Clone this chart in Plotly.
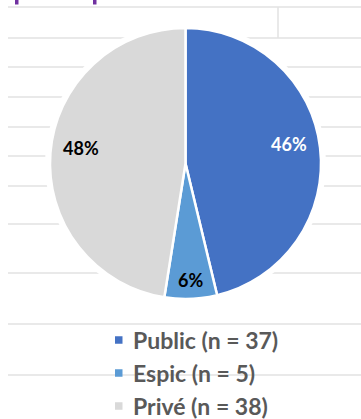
import math
import plotly.graph_objects as go

# ---- data ----
categories = ["Public", "Espic", "Privé"]
counts = [37, 5, 38]
colors = ["#4472C4", "#5B9BD5", "#D9D9D9"]
label_colors = ["white", "black", "black"]

W, H = 361, 419
total = sum(counts)
pct_text = [f"{int(v * 100 / total + 0.5)}%" for v in counts]

def px(x):
    return x / W

def py(y):
    return 1 - y / H

# pie geometry (pixels)
cx, cy, r = 185.5, 163.5, 135.5

fig = go.Figure()
fig.add_trace(go.Pie(
    labels=categories,
    values=counts,
    textinfo="none",
    marker=dict(colors=colors, line=dict(color="white", width=2.5)),
    sort=False,
    direction="clockwise",
    rotation=0,
    showlegend=False,
    hoverinfo="label+value+percent",
    domain=dict(x=[px(cx - r), px(cx + r)], y=[py(cy + r), py(cy - r)]),
))

shapes = []
# spreadsheet gridlines (background decoration)
grid_y = [7, 38, 67, 97, 127, 156, 186, 224, 273, 324, 375]
for gy in grid_y:
    shapes.append(dict(type="line", xref="paper", yref="paper",
                       x0=px(8), x1=1, y0=py(gy), y1=py(gy),
                       line=dict(color="#E2E2E2", width=1.5), layer="below"))
shapes.append(dict(type="line", xref="paper", yref="paper",
                   x0=px(278), x1=px(278), y0=py(7), y1=py(38),
                   line=dict(color="#E2E2E2", width=1.5), layer="below"))
# white halo around the pie
g = 5
shapes.append(dict(type="circle", xref="paper", yref="paper",
                   x0=px(cx - r - g), x1=px(cx + r + g),
                   y0=py(cy + r + g), y1=py(cy - r - g),
                   fillcolor="white", line=dict(width=0), layer="below"))
# purple descenders of cut-off title
for x0 in (15, 93):
    shapes.append(dict(type="rect", xref="paper", yref="paper",
                       x0=px(x0), x1=px(x0 + 3.5), y0=py(4.5), y1=1,
                       fillcolor="#7030A0", line=dict(width=0)))

annotations = []
# percentage labels placed along each slice's bisector (computed from data)
cum = 0
for v, t, c in zip(counts, pct_text, label_colors):
    mid = (cum + v / 2) / total * 2 * math.pi
    cum += v
    frac = 0.77 if v / total > 0.2 else 0.86
    lx = cx + frac * r * math.sin(mid)
    ly = cy - frac * r * math.cos(mid) - (7 if v / total > 0.2 else 0)
    annotations.append(dict(xref="paper", yref="paper", x=px(lx), y=py(ly),
                            xanchor="center", yanchor="middle", showarrow=False,
                            text=f"<b>{t}</b>",
                            font=dict(family="Lato", size=18, color=c)))

# legend (manual, to match row spacing)
legend_y = [340, 373, 406]
for name, n, col, ly in zip(categories, counts, colors, legend_y):
    shapes.append(dict(type="rect", xref="paper", yref="paper",
                       x0=px(115), x1=px(122.5), y0=py(ly + 3.75), y1=py(ly - 3.75),
                       fillcolor=col, line=dict(width=0)))
    annotations.append(dict(xref="paper", yref="paper", x=px(131), y=py(ly),
                            xanchor="left", yanchor="middle", showarrow=False,
                            text=f"<b>{name} (n = {n})</b>",
                            font=dict(family="Lato", size=23, color="#595959")))

fig.update_layout(
    width=W, height=H,
    margin=dict(l=0, r=0, t=0, b=0),
    paper_bgcolor="white",
    plot_bgcolor="white",
    shapes=shapes,
    annotations=annotations,
)

fig.write_html("out.html")
